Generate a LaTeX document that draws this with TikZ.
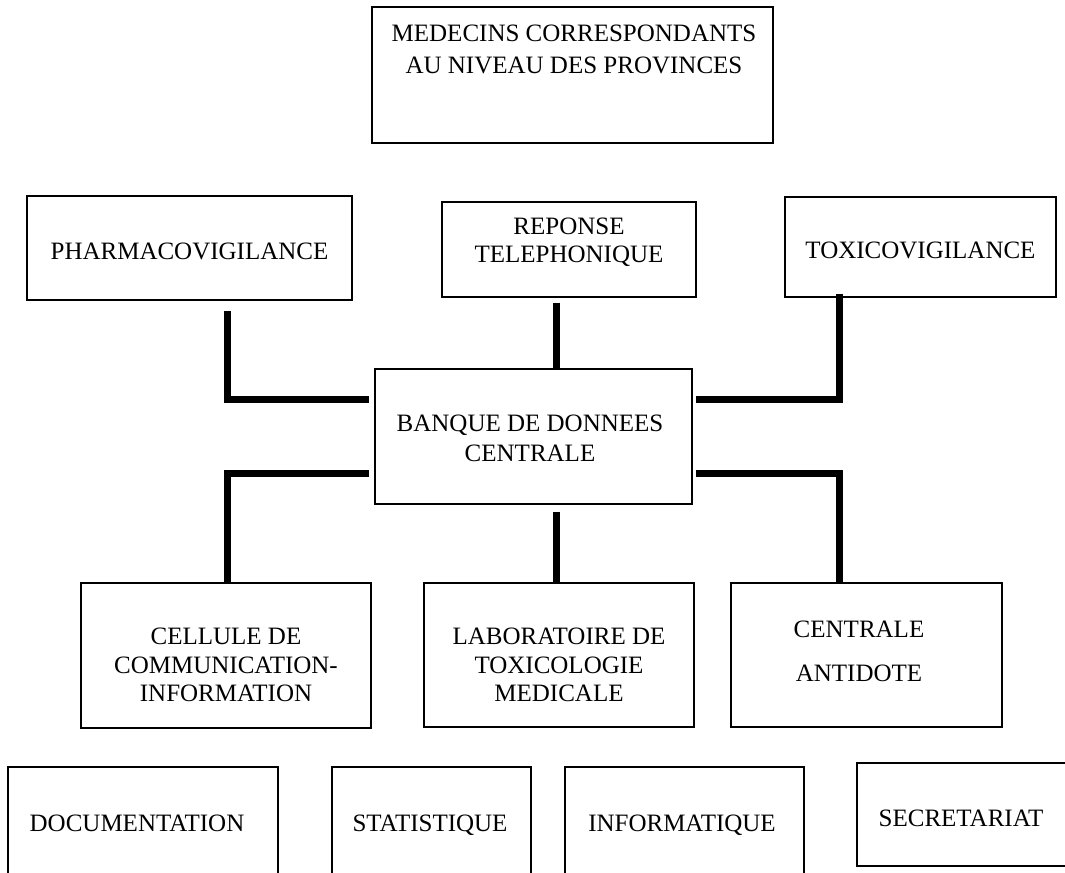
\documentclass[tikz,border=0pt]{standalone}
\usepackage{fontspec}
\setmainfont{Liberation Serif}
\usetikzlibrary{fit,calc}
\begin{document}
\begin{tikzpicture}[x=0.75pt,y=-0.75pt,
  box/.style={draw, line width=1.1pt, inner sep=0pt},
  lbl/.style={inner sep=0pt, align=center, font=\fontsize{18.75}{22.5}\selectfont},
  conn/.style={line width=5.25pt}]
\useasboundingbox (0,0) rectangle (1065,873);
\begin{scope}
\clip (0,0) rectangle (1065,873);
% boxes
\node[box, fit={(372,7) (773,143)}] (medecins) {};
\node[box, fit={(27,196) (352,300)}] (pharma) {};
\node[box, fit={(442,202) (696,297)}] (reponse) {};
\node[box, fit={(785,197) (1056,297)}] (toxico) {};
\node[box, fit={(375,369) (692,504)}] (banque) {};
\node[box, fit={(81,583) (371,728)}] (cellule) {};
\node[box, fit={(424,583) (694,727)}] (labo) {};
\node[box, fit={(731,583) (1002,727)}] (centrale) {};
\node[box, fit={(8,767) (278,900)}] (docu) {};
\node[box, fit={(332,767) (531,900)}] (stat) {};
\node[box, fit={(565,767) (804,900)}] (info) {};
\node[box, fit={(857,763) (1075,866)}] (secr) {};
% texts
\node[lbl, font=\fontsize{18.75}{24}\selectfont] (tmedecins) at (574,49) {MEDECINS CORRESPONDANTS\\AU NIVEAU DES PROVINCES};
\node[lbl, anchor=base] (tpharma) at (189.5,260) {PHARMACOVIGILANCE};
\node[lbl, font=\fontsize{18.75}{21}\selectfont] (treponse) at (569,242) {REPONSE\\TELEPHONIQUE};
\node[lbl, anchor=base] (ttoxico) at (920.5,259) {TOXICOVIGILANCE};
\node[lbl] (tbanque) at (530,438) {BANQUE DE DONNEES\\CENTRALE};
\node[lbl, font=\fontsize{18.75}{21.4}\selectfont] (tcellule) at (226,665) {CELLULE DE\\COMMUNICATION-\\INFORMATION};
\node[lbl, font=\fontsize{18.75}{21.4}\selectfont] (tlabo) at (559,665) {LABORATOIRE DE\\TOXICOLOGIE\\MEDICALE};
\node[lbl, font=\fontsize{18.75}{33}\selectfont] (tcentrale) at (859,651.5) {CENTRALE\\ANTIDOTE};
\node[lbl, anchor=base] (tdocu) at (137,831) {DOCUMENTATION};
\node[lbl, anchor=base] (tstat) at (430,831) {STATISTIQUE};
\node[lbl, anchor=base] (tinfo) at (682,831) {INFORMATIQUE};
\node[lbl, anchor=base] (tsecr) at (961,826) {SECRETARIAT};
% connector guide coordinates
\coordinate (xl) at (227,400);
\coordinate (xr) at (839,400);
\coordinate (xc) at (556,0);
\coordinate (yb) at (0,474);
% connectors
\draw[conn] ($(pharma.south -| xl)+(0,10)$) |- ($(banque.west |- xl)+(-5,0)$);
\draw[conn] ($(reponse.south -| xc)+(0,5)$) -- (banque.north -| xc);
\draw[conn] ($(toxico.south -| xr)+(0,-4)$) |- ($(banque.east |- xr)+(3,0)$);
\draw[conn] ($(banque.west |- yb)+(-5,0)$) -| (cellule.north -| xl);
\draw[conn] ($(banque.south -| xc)+(0,7)$) -- (labo.north -| xc);
\draw[conn] ($(banque.east |- yb)+(3,0)$) -| (centrale.north -| xr);
\end{scope}
\end{tikzpicture}
\end{document}
